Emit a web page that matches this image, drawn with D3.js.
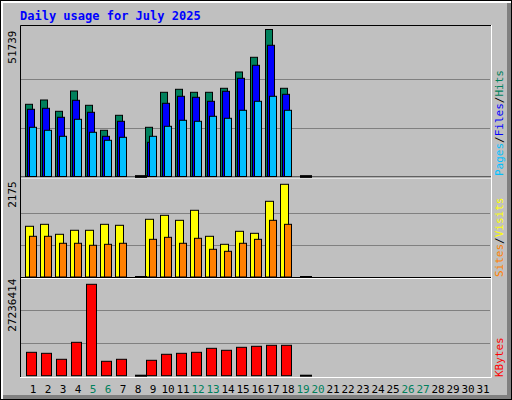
<!DOCTYPE html>
<html>
<head>
<meta charset="utf-8">
<script src="https://cdn.jsdelivr.net/npm/d3@7"></script>
<style>
body { margin: 0; background: #fff; }
text { font-family: "DejaVu Sans Mono", monospace; }
</style>
</head>
<body>
<script>
// values; null = no data (day not reached yet)
var days = d3.range(1, 32);
var weekend = [5, 6, 12, 13, 19, 20, 26, 27];
var hits  = [25414, 26928, 22950, 30096, 25062, 16262, 21542, 0, 17318, 29638, 30694, 29638, 29638, 31046, 36784, 41958, 51739, 31046, 0];
var files = [23654, 24006, 20838, 26822, 22598, 14150, 19430, 0, 12038, 25766, 28230, 27878, 26470, 29990, 34566, 39142, 46182, 28934, 0];
var pages = [17318, 16262, 14150, 20134, 15558, 12742, 13798, 0, 14150, 17670, 19782, 19430, 21190, 20486, 23302, 26470, 28230, 23302, 0];
var visits = [1190, 1236, 1002, 1096, 1096, 1236, 1213, 0, 1354, 1447, 1330, 1565, 955, 767, 1072, 1025, 1776, 2175, 0];
var sites  = [955, 955, 791, 791, 744, 767, 791, 0, 884, 931, 791, 908, 650, 603, 791, 884, 1330, 1236, 0];
var kbytes = [6970000, 6670000, 4890000, 9950000, 27236414, 4290000, 4890000, 0, 4590000, 6380000, 6670000, 6970000, 8160000, 7570000, 8460000, 8760000, 9060000, 9060000, 0];
var maxLabels = ["51739", "2175", "27236414"];

var W = 512, H = 400;
var svg = d3.select("body").append("svg").attr("width", W).attr("height", H);

// frame
svg.append("rect").attr("x", 0).attr("y", 0).attr("width", W).attr("height", H).attr("fill", "#000");
svg.append("rect").attr("x", 1).attr("y", 1).attr("width", W - 2).attr("height", H - 2).attr("fill", "#fff");
svg.append("rect").attr("x", 3).attr("y", 3).attr("width", W - 4).attr("height", H - 4).attr("fill", "#808080");
svg.append("rect").attr("x", 3).attr("y", 3).attr("width", W - 8).attr("height", H - 8).attr("fill", "#c0c0c0");

svg.append("text").attr("x", 20).attr("y", 20).attr("fill", "#0000ff")
  .attr("font-size", 12).attr("font-weight", "bold").text("Daily usage for July 2025");

var x = d3.scaleLinear().domain([1, 2]).range([25, 40]);

// plot area
svg.append("rect").attr("x", 20).attr("y", 25).attr("width", 471).attr("height", 352).attr("fill", "#c0c0c0");
svg.append("path").attr("d", "M20.5,377V25.5H491").attr("stroke", "#000").attr("fill", "none");
svg.append("path").attr("d", "M491.5,25V377.5H20").attr("stroke", "#fff").attr("fill", "none");

var panels = [
  { top: 29.5, base: 176.5, gtop: 29.5, max: 51739, sep: 178 },
  { top: 184.3, base: 277, gtop: 180.3, max: 2175, sep: 278.5 },
  { top: 284.3, base: 375.7, gtop: 277.7, max: 27236414, sep: null }
];
panels.forEach(function(p, i) {
  p.y = d3.scaleLinear().domain([0, p.max]).range([p.base, p.top]);
  var h = p.base - p.gtop;
  [1, 2].forEach(function(k) {
    var gy = Math.round(p.base - h * k / 3) + 0.5;
    svg.append("line").attr("x1", 21).attr("x2", 490).attr("y1", gy).attr("y2", gy)
      .attr("stroke", "#808080");
  });
  if (p.sep) {
    svg.append("line").attr("x1", 21).attr("x2", 491).attr("y1", p.sep - 1).attr("y2", p.sep - 1).attr("stroke", "#000");
    svg.append("line").attr("x1", 21).attr("x2", 491).attr("y1", p.sep).attr("y2", p.sep).attr("stroke", "#fff");
  }
  svg.append("text").attr("transform", "translate(16," + (p.gtop + 1) + ") rotate(-90)")
    .attr("text-anchor", "end").attr("font-size", 11).attr("fill", "#000").text(maxLabels[i]);
});

function bars(data, p, dx, w, color) {
  svg.append("g").selectAll("rect").data(data).enter()
    .filter(function(d) { return d > 0; })
    .append("rect")
    .attr("x", function(d, i) { return x(data.indexOf(d) + 1) + dx; })
    .attr("y", function(d) { return p.y(d); })
    .attr("width", w)
    .attr("height", function(d) { return p.base - p.y(d); })
    .attr("fill", color).attr("stroke", "#000");
}
function barsIdx(data, p, dx, w, color) {
  var g = svg.append("g");
  data.forEach(function(d, i) {
    if (d > 0) {
      g.append("rect").attr("x", x(i + 1) + dx + 0.5).attr("y", p.y(d))
        .attr("width", w).attr("height", p.base - p.y(d))
        .attr("fill", color).attr("stroke", "#000");
    } else {
      g.append("rect").attr("x", x(i + 1) + 5).attr("y", p.base - 1)
        .attr("width", 12).attr("height", 2).attr("fill", "#000");
    }
  });
}
barsIdx(hits, panels[0], 0, 7, "#00805c");
barsIdx(files, panels[0], 2, 7, "#0000ff");
barsIdx(pages, panels[0], 4, 7, "#00c0ff");
barsIdx(visits, panels[1], 0, 8, "#ffff00");
barsIdx(sites, panels[1], 4, 7, "#ff8000");
barsIdx(kbytes, panels[2], 1, 10, "#ff0000");

// day labels
svg.append("g").selectAll("text").data(days).enter().append("text")
  .attr("x", function(d) { return x(d) + 8; })
  .attr("y", 393).attr("text-anchor", "middle").attr("font-size", 11)
  .attr("fill", function(d) { return weekend.indexOf(d) >= 0 ? "#00805c" : "#000"; })
  .text(function(d) { return d; });

// right side legends
function legend(y, parts) {
  var t = svg.append("text").attr("transform", "translate(503," + y + ") rotate(-90)")
    .attr("font-size", 11);
  parts.forEach(function(p) { t.append("tspan").attr("fill", p[1]).text(p[0]); });
}
legend(176, [["Pages", "#00c0ff"], ["/", "#000"], ["Files", "#0000ff"], ["/", "#000"], ["Hits", "#00805c"]]);
legend(277, [["Sites", "#ff8000"], ["/", "#000"], ["Visits", "#ffff00"]]);
legend(377, [["KBytes", "#ff0000"]]);
</script>
</body>
</html>
